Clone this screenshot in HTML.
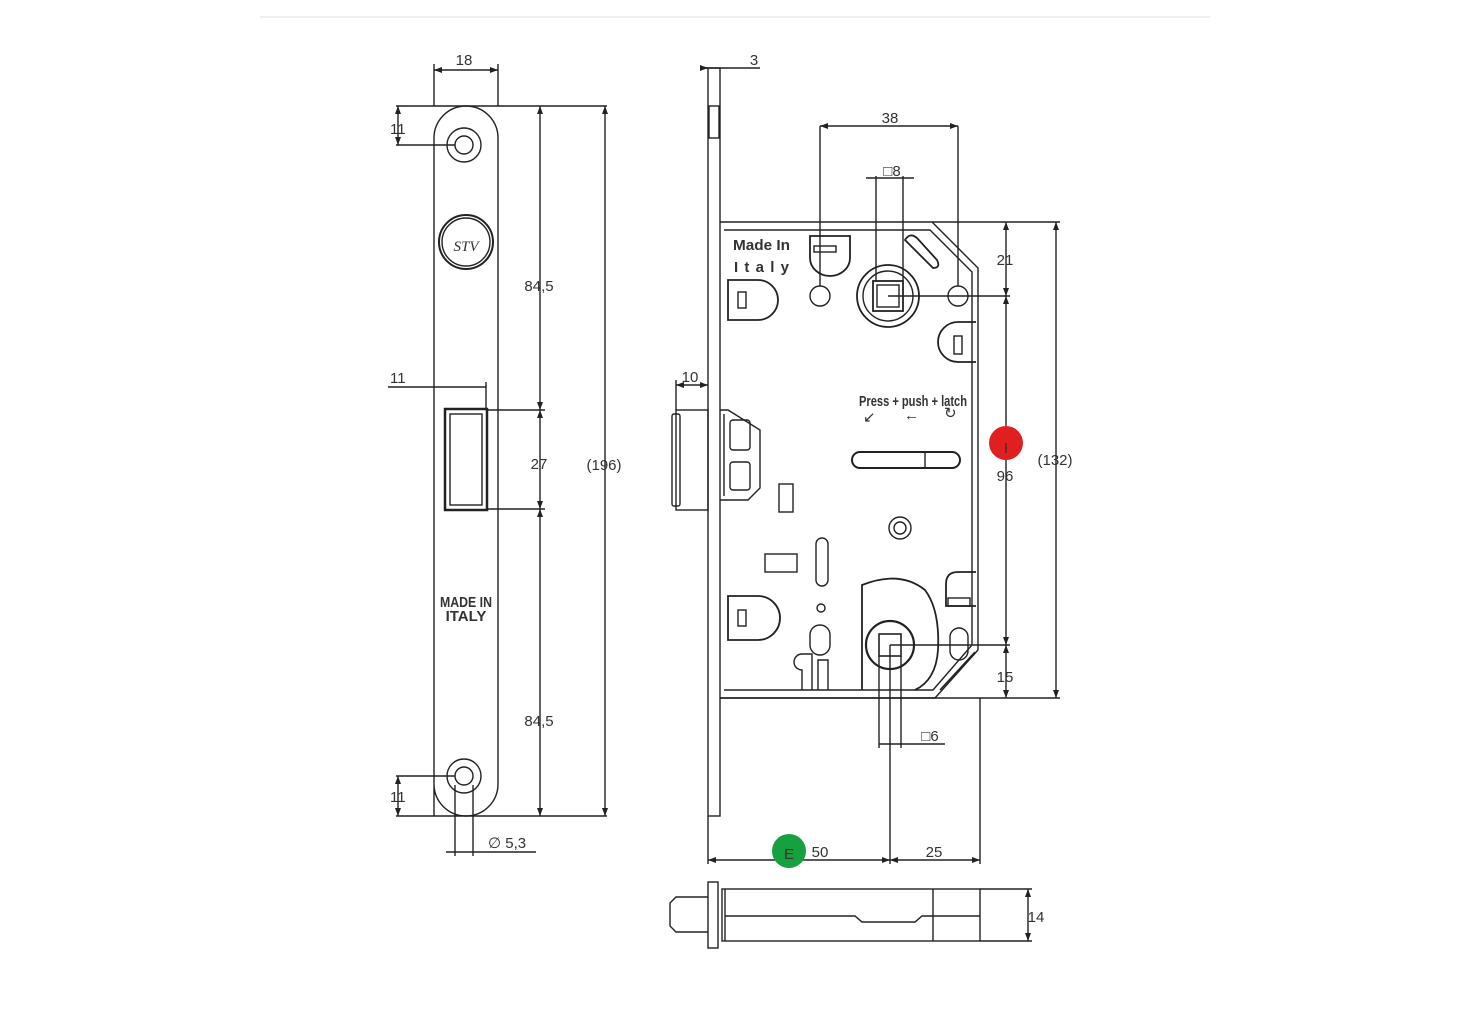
<!DOCTYPE html>
<html><head><meta charset="utf-8"><style>
html,body{margin:0;padding:0;background:#fff;width:1472px;height:1024px;overflow:hidden}
svg{display:block}
text{font-family:"Liberation Sans",sans-serif;fill:#333;font-size:15px}
</style></head><body>
<svg width="1472" height="1024" viewBox="0 0 1472 1024" xmlns="http://www.w3.org/2000/svg">
<defs>
<marker id="a" markerWidth="8" markerHeight="6" refX="8" refY="3" orient="auto-start-reverse" markerUnits="userSpaceOnUse"><path d="M0,0 L8,3 L0,6z" fill="#222"/></marker>
</defs>
<line x1="260" y1="17" x2="1210" y2="17" stroke="#eee" stroke-width="2"/>
<g fill="none" stroke="#222" stroke-width="1.4">
<path d="M434,816 V138 A32,32 0 0 1 498,138 V784 A32,32 0 0 1 434,784"/>
<circle cx="464" cy="145" r="17"/><circle cx="464" cy="145" r="9"/>
<circle cx="464" cy="776" r="17"/><circle cx="464" cy="776" r="9"/>
<circle cx="466" cy="242" r="27" stroke-width="2"/><circle cx="466" cy="242" r="24"/>
<rect x="445" y="409" width="42" height="101" stroke-width="2.5"/>
<rect x="450" y="414" width="32" height="91"/>
<line x1="434" y1="64" x2="434" y2="106"/><line x1="498" y1="64" x2="498" y2="106"/>
<line x1="434" y1="70" x2="498" y2="70" marker-start="url(#a)" marker-end="url(#a)"/>
<line x1="396" y1="106" x2="607" y2="106"/>
<line x1="396" y1="145" x2="455" y2="145"/>
<line x1="398" y1="106" x2="398" y2="145" marker-start="url(#a)" marker-end="url(#a)"/>
<line x1="540" y1="106" x2="540" y2="410" marker-start="url(#a)" marker-end="url(#a)"/>
<line x1="540" y1="410" x2="540" y2="509" marker-start="url(#a)" marker-end="url(#a)"/>
<line x1="540" y1="509" x2="540" y2="816" marker-start="url(#a)" marker-end="url(#a)"/>
<line x1="487" y1="410" x2="545" y2="410"/><line x1="487" y1="509" x2="545" y2="509"/>
<line x1="605" y1="106" x2="605" y2="816" marker-start="url(#a)" marker-end="url(#a)"/>
<line x1="396" y1="816" x2="607" y2="816"/>
<line x1="388" y1="387" x2="486" y2="387"/><line x1="486" y1="382" x2="486" y2="409"/>
<line x1="396" y1="776" x2="455" y2="776"/>
<line x1="398" y1="776" x2="398" y2="816" marker-start="url(#a)" marker-end="url(#a)"/>
<line x1="455" y1="785" x2="455" y2="856"/><line x1="473" y1="785" x2="473" y2="856"/>
<line x1="446" y1="852" x2="536" y2="852"/>
<rect x="708" y="68" width="12" height="748"/>
<rect x="709" y="106" width="10" height="32"/>
<path d="M720,222 H932 L978,268 V650 L935,698 H720"/>
<path d="M724,230 H930 L972,272 V645 L933,690 H724"/>
<rect x="676" y="410" width="32" height="100"/>
<rect x="672" y="414" width="8" height="92" rx="2"/>
<path d="M720,410 H728 L760,430 V488 L748,500 H720"/>
<line x1="724" y1="414" x2="724" y2="496"/>
<rect x="730" y="420" width="20" height="30" rx="3"/><rect x="730" y="462" width="20" height="28" rx="3"/>
<circle cx="888" cy="296" r="31" stroke-width="1.8"/><circle cx="888" cy="296" r="25"/>
<rect x="873" y="281" width="30" height="30" stroke-width="1.8"/><rect x="877" y="285" width="22" height="22"/>
<circle cx="820" cy="296" r="10"/><circle cx="958" cy="296" r="10"/>
<path d="M810,236 H850 V258 A20,18 0 0 1 810,258Z" stroke-width="1.8"/>
<rect x="814" y="246" width="22" height="6"/>
<path d="M728,280 V320 H758 A20,20 0 0 0 758,280Z" stroke-width="1.8"/>
<rect x="738" y="292" width="8" height="16"/>
<path d="M976,322 H958 A20,20 0 0 0 958,362 H976" stroke-width="1.8"/>
<rect x="954" y="336" width="8" height="18"/>
<path d="M905,240 q5,-8 12,-2 l20,22 q4,8 -4,8 z" stroke-width="1.8"/>
<rect x="852" y="452" width="108" height="16" rx="8" stroke-width="2"/>
<line x1="925" y1="452" x2="925" y2="468"/>
<circle cx="900" cy="528" r="11"/><circle cx="900" cy="528" r="6"/>
<rect x="779" y="484" width="14" height="28"/>
<rect x="765" y="554" width="32" height="18"/>
<rect x="816" y="538" width="12" height="48" rx="6"/>
<circle cx="821" cy="608" r="4"/>
<rect x="810" y="625" width="20" height="30" rx="10"/>
<path d="M728,596 V640 H758 A22,22 0 0 0 758,596Z" stroke-width="1.8"/>
<rect x="738" y="610" width="8" height="16"/>
<path d="M976,572 H958 Q946,572 946,584 V606 H976" stroke-width="1.8"/>
<rect x="948" y="598" width="22" height="8"/>
<rect x="950" y="628" width="18" height="32" rx="9"/>
<path d="M862,690 V585 Q900,570 925,590 Q940,610 938,650 Q936,680 915,690" stroke-width="1.8"/>
<circle cx="890" cy="645" r="24" stroke-width="2.2"/>
<rect x="879" y="634" width="22" height="22" stroke-width="1.6"/>
<path d="M802,690 V670 a8,8 0 0 1 0,-16 H812 V690 M818,690 V660 H828 V690"/>
<path d="M940,690 L975,652" stroke-width="1.6"/>
<line x1="700" y1="68" x2="760" y2="68"/>
<line x1="700" y1="68" x2="708" y2="68" marker-end="url(#a)"/>
<line x1="820" y1="126" x2="820" y2="286"/><line x1="958" y1="126" x2="958" y2="286"/>
<line x1="820" y1="126" x2="958" y2="126" marker-start="url(#a)" marker-end="url(#a)"/>
<line x1="876" y1="176" x2="876" y2="281"/><line x1="903" y1="176" x2="903" y2="281"/>
<line x1="866" y1="178" x2="914" y2="178"/>
<line x1="932" y1="222" x2="1060" y2="222"/>
<line x1="888" y1="296" x2="1010" y2="296"/>
<line x1="1006" y1="222" x2="1006" y2="296" marker-start="url(#a)" marker-end="url(#a)"/>
<line x1="1006" y1="296" x2="1006" y2="645" marker-start="url(#a)" marker-end="url(#a)"/>
<line x1="1006" y1="645" x2="1006" y2="698" marker-start="url(#a)" marker-end="url(#a)"/>
<line x1="890" y1="645" x2="1010" y2="645"/>
<line x1="720" y1="698" x2="1060" y2="698"/>
<line x1="1056" y1="222" x2="1056" y2="698" marker-start="url(#a)" marker-end="url(#a)"/>
<line x1="676" y1="380" x2="676" y2="410"/>
<line x1="676" y1="385" x2="708" y2="385" marker-start="url(#a)" marker-end="url(#a)"/>
<line x1="879" y1="656" x2="879" y2="748"/><line x1="901" y1="656" x2="901" y2="748"/>
<line x1="890" y1="645" x2="890" y2="864"/>
<line x1="879" y1="744" x2="945" y2="744"/>
<line x1="708" y1="816" x2="708" y2="864"/><line x1="980" y1="698" x2="980" y2="864"/>
<line x1="708" y1="860" x2="890" y2="860" marker-start="url(#a)" marker-end="url(#a)"/>
<line x1="890" y1="860" x2="980" y2="860" marker-start="url(#a)" marker-end="url(#a)"/>
<rect x="708" y="882" width="10" height="66"/>
<rect x="722" y="889" width="258" height="52"/>
<line x1="725" y1="889" x2="725" y2="941"/>
<line x1="933" y1="889" x2="933" y2="941"/>
<path d="M725,916 H855 L862,922 H915 L922,916 H980"/>
<path d="M708,897 H676 L670,903 V926 L676,932 H708"/>
<line x1="980" y1="889" x2="1032" y2="889"/><line x1="980" y1="941" x2="1032" y2="941"/>
<line x1="1028" y1="889" x2="1028" y2="941" marker-start="url(#a)" marker-end="url(#a)"/>
</g>
<text x="466" y="251" text-anchor="middle" font-size="24" font-style="italic" style="font-family:'Liberation Serif',serif" fill="#222">STV</text>
<text x="464" y="65" text-anchor="middle">18</text>
<text x="390" y="134">11</text>
<text x="539" y="291" text-anchor="middle">84,5</text>
<text x="390" y="383">11</text>
<text x="539" y="469" text-anchor="middle">27</text>
<text x="604" y="470" text-anchor="middle">(196)</text>
<text x="539" y="726" text-anchor="middle">84,5</text>
<text x="390" y="802">11</text>
<text x="488" y="848">∅ 5,3</text>
<text x="466" y="607" text-anchor="middle" font-size="12" font-weight="bold" fill="#111" textLength="52" lengthAdjust="spacingAndGlyphs">MADE IN</text>
<text x="466" y="621" text-anchor="middle" font-size="12" font-weight="bold" fill="#111">ITALY</text>
<text x="754" y="65" text-anchor="middle">3</text>
<text x="890" y="123" text-anchor="middle">38</text>
<text x="892" y="176" text-anchor="middle">□8</text>
<text x="733" y="250" font-size="14" font-weight="bold" fill="#111" textLength="57" lengthAdjust="spacingAndGlyphs">Made In</text>
<text x="734" y="272" font-size="19" font-weight="bold" fill="#111" textLength="55" lengthAdjust="spacing">Italy</text>
<text x="690" y="382" text-anchor="middle">10</text>
<text x="859" y="406" font-size="11" font-weight="bold" fill="#111" textLength="108" lengthAdjust="spacingAndGlyphs">Press + push + latch</text>
<text x="863" y="422" font-size="14" fill="#111">↙</text><text x="904" y="420" font-size="14" fill="#111">←</text><text x="944" y="418" font-size="14" fill="#111">↻</text>
<text x="1005" y="265" text-anchor="middle">21</text>
<text x="1005" y="481" text-anchor="middle">96</text>
<text x="1055" y="465" text-anchor="middle">(132)</text>
<text x="1005" y="682" text-anchor="middle">15</text>
<text x="930" y="741" text-anchor="middle">□6</text>
<text x="820" y="857" text-anchor="middle">50</text>
<text x="934" y="857" text-anchor="middle">25</text>
<text x="1036" y="922" text-anchor="middle">14</text>
<circle cx="1006" cy="443" r="17" fill="#e02020"/>
<text x="1006" y="453" text-anchor="middle" font-size="22" fill="#fff">I</text>
<circle cx="789" cy="851" r="17" fill="#17a040"/>
<text x="789" y="859" text-anchor="middle" font-size="20" fill="#fff">E</text>
</svg>
</body></html>
